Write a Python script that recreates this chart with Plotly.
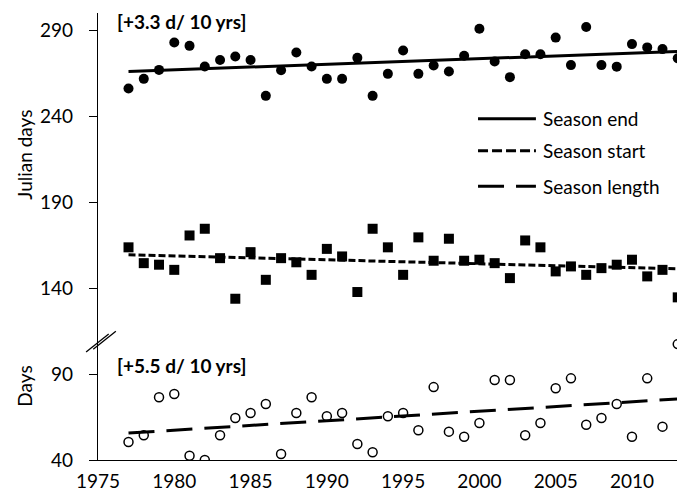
import plotly.graph_objects as go

years = list(range(1977, 2014))

season_end = [256.1, 261.7, 266.9, 282.8, 280.9, 268.9, 272.7, 274.7, 272.7, 251.8,
              266.7, 277.0, 268.9, 261.7, 261.7, 273.9, 251.8, 264.6, 278.2, 264.6,
              269.5, 266.0, 275.1, 290.8, 271.8, 262.7, 276.0, 276.0, 285.7, 269.7,
              291.9, 269.7, 268.8, 281.9, 280.0, 279.0, 273.7]

season_start = [163.7, 154.5, 153.6, 150.6, 170.6, 174.5, 157.4, 133.8, 160.9, 144.8,
                157.4, 155.0, 147.7, 162.8, 158.4, 137.7, 174.5, 163.7, 147.7, 169.5,
                155.9, 168.7, 155.9, 156.5, 154.5, 145.8, 167.7, 163.7, 149.7, 152.6,
                147.7, 151.6, 153.6, 156.5, 146.8, 150.6, 134.6]

season_length = [50.5, 54.4, 76.5, 78.4, 42.5, 40.0, 54.4, 64.4, 67.3, 72.6,
                 43.5, 67.3, 76.5, 65.4, 67.3, 49.3, 44.5, 65.4, 67.3, 57.3,
                 82.4, 56.5, 53.5, 61.5, 86.5, 86.5, 54.4, 61.5, 81.7, 87.5,
                 60.5, 64.4, 72.6, 53.5, 87.5, 59.4, 107.4]

trend_years = [1977, 2013]
end_trend = [266.0, 277.6]
start_trend = [159.4, 151.2]
length_trend = [55.7, 75.5]

y_ticks = [40, 90, 140, 190, 240, 290]
x_ticks = [1975, 1980, 1985, 1990, 1995, 2000, 2005, 2010]

FONT = "Lato"
FS = 19

fig = go.Figure()

fig.add_trace(go.Scatter(x=years, y=season_end, mode="markers",
                         marker=dict(symbol="circle", size=10, color="black"),
                         showlegend=False))
fig.add_trace(go.Scatter(x=years, y=season_start, mode="markers",
                         marker=dict(symbol="square", size=10, color="black"),
                         showlegend=False))
fig.add_trace(go.Scatter(x=years, y=season_length, mode="markers",
                         marker=dict(symbol="circle-open", size=9, color="black",
                                     line=dict(width=1.5, color="black")),
                         showlegend=False))

fig.add_trace(go.Scatter(x=trend_years, y=end_trend, mode="lines",
                         line=dict(color="black", width=3), name="Season end",
                         showlegend=False))
fig.add_trace(go.Scatter(x=trend_years, y=start_trend, mode="lines",
                         line=dict(color="black", width=3, dash="7px,3px"),
                         name="Season start", showlegend=False))
fig.add_trace(go.Scatter(x=trend_years, y=length_trend, mode="lines",
                         line=dict(color="black", width=3, dash="26px,12px"),
                         name="Season length", showlegend=False))

# custom legend
legend_items = [("Season end", "solid", 0.7635),
                ("Season start", "10px,4px", 0.692),
                ("Season length", "26px,12px", 0.6123)]
for name, dash, yp in legend_items:
    fig.add_shape(type="line", xref="paper", yref="paper",
                  x0=0.6387, x1=0.736, y0=yp, y1=yp,
                  line=dict(color="black", width=3, dash=dash))
    fig.add_annotation(xref="paper", yref="paper", x=0.745, y=yp,
                       text=name, showarrow=False, xanchor="left", yanchor="middle",
                       font=dict(family=FONT, size=FS, color="black"))

# trend annotations
fig.add_annotation(xref="paper", yref="paper", x=0.029, y=(452 - 13) / 447,
                   text="<b>[+3.3 d/ 10 yrs]</b>", showarrow=False,
                   xanchor="left", yanchor="middle",
                   font=dict(family=FONT, size=FS, color="black"))
fig.add_annotation(xref="paper", yref="paper", x=0.029, y=(452 - 357) / 447,
                   text="<b>[+5.5 d/ 10 yrs]</b>", showarrow=False,
                   xanchor="left", yanchor="middle",
                   font=dict(family=FONT, size=FS, color="black"))

# axis titles
fig.add_annotation(xref="paper", yref="paper", x=-0.125, y=(452 - 147) / 447,
                   text="Julian days", textangle=-90, showarrow=False,
                   xanchor="center", yanchor="middle",
                   font=dict(family=FONT, size=FS, color="black"))
fig.add_annotation(xref="paper", yref="paper", x=-0.125, y=(452 - 378) / 447,
                   text="Days", textangle=-90, showarrow=False,
                   xanchor="center", yanchor="middle",
                   font=dict(family=FONT, size=FS, color="black"))

# axis break marker
for dx in (0.0, 0.012):
    fig.add_shape(type="line", xref="paper", yref="paper",
                  x0=-0.02 + dx, x1=0.018 + dx,
                  y0=(452 - 344) / 447 + dx * 0.5, y1=(452 - 326) / 447 + dx * 0.5,
                  line=dict(color="black", width=1.3))

fig.update_layout(
    width=685, height=496,
    margin=dict(l=90, r=0, t=5, b=44),
    paper_bgcolor="white", plot_bgcolor="white",
    font=dict(family=FONT, size=FS, color="black"),
    showlegend=False,
    xaxis=dict(range=[1975, 2014], tickvals=x_ticks, ticks="",
               showline=True, linecolor="black", linewidth=1.2,
               showgrid=False, zeroline=False, ticklabelstandoff=4,
               tickfont=dict(family=FONT, size=FS, color="black")),
    yaxis=dict(range=[40, 300], tickvals=y_ticks, ticks="outside", ticklen=8,
               tickcolor="black", tickwidth=1.2,
               showline=True, linecolor="black", linewidth=1.2,
               showgrid=False, zeroline=False, ticklabelstandoff=12,
               tickfont=dict(family=FONT, size=FS, color="black")),
)

fig.write_html("out.html")
